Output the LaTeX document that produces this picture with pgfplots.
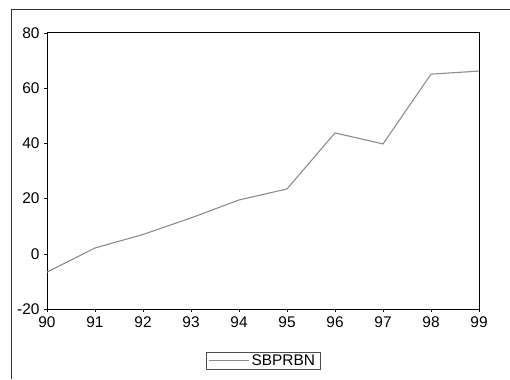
\documentclass[border=0pt]{standalone}
\usepackage{pgfplots}
\pgfplotsset{compat=1.18}
\usepackage{fontspec}
\setmainfont{Liberation Sans}
\begin{document}
\begin{tikzpicture}[x=1bp,y=1bp]
\path[use as bounding box] (0,0) rectangle (510,379);
\draw[line width=1bp, black!80] (11,0) -- (11,369) -- (510,369);
\begin{axis}[
  at={(47bp,70bp)}, anchor=south west,
  scale only axis, width=432bp, height=276bp,
  xmin=90, xmax=99, ymin=-20, ymax=80,
  xtick={90,...,99}, ytick={-20,0,20,40,60,80},
  tick pos=left,
  tick align=outside, major tick length=3bp,
  tick style={black, line width=0.6bp},
  axis line style={black, line width=1bp},
  ticklabel style={font=\fontsize{15.5}{17}\selectfont},
  /pgf/number format/assume math mode=true,
  xticklabel style={yshift=-1bp},
  yticklabel style={xshift=-1bp},
  legend style={at={(0.5,-0.187)}, anchor=center, draw=black!70, line width=0.6bp,
    font=\fontsize{15.5}{17}\selectfont, inner xsep=3bp, inner ysep=0.5bp},
  legend cell align=left,
  legend image code/.code={\draw[#1, line width=0.6bp] (0bp,0bp) -- (40bp,0bp);},
]
\addplot[color=black!45, line width=1.1bp] coordinates {
 (90,-6.6) (91,2.1) (92,7.0) (93,13.0) (94,19.5) (95,23.5) (96,43.8) (97,39.8) (98,65.1) (99,66.2)
};
\addlegendentry{SBPRBN}
\end{axis}
\end{tikzpicture}
\end{document}
